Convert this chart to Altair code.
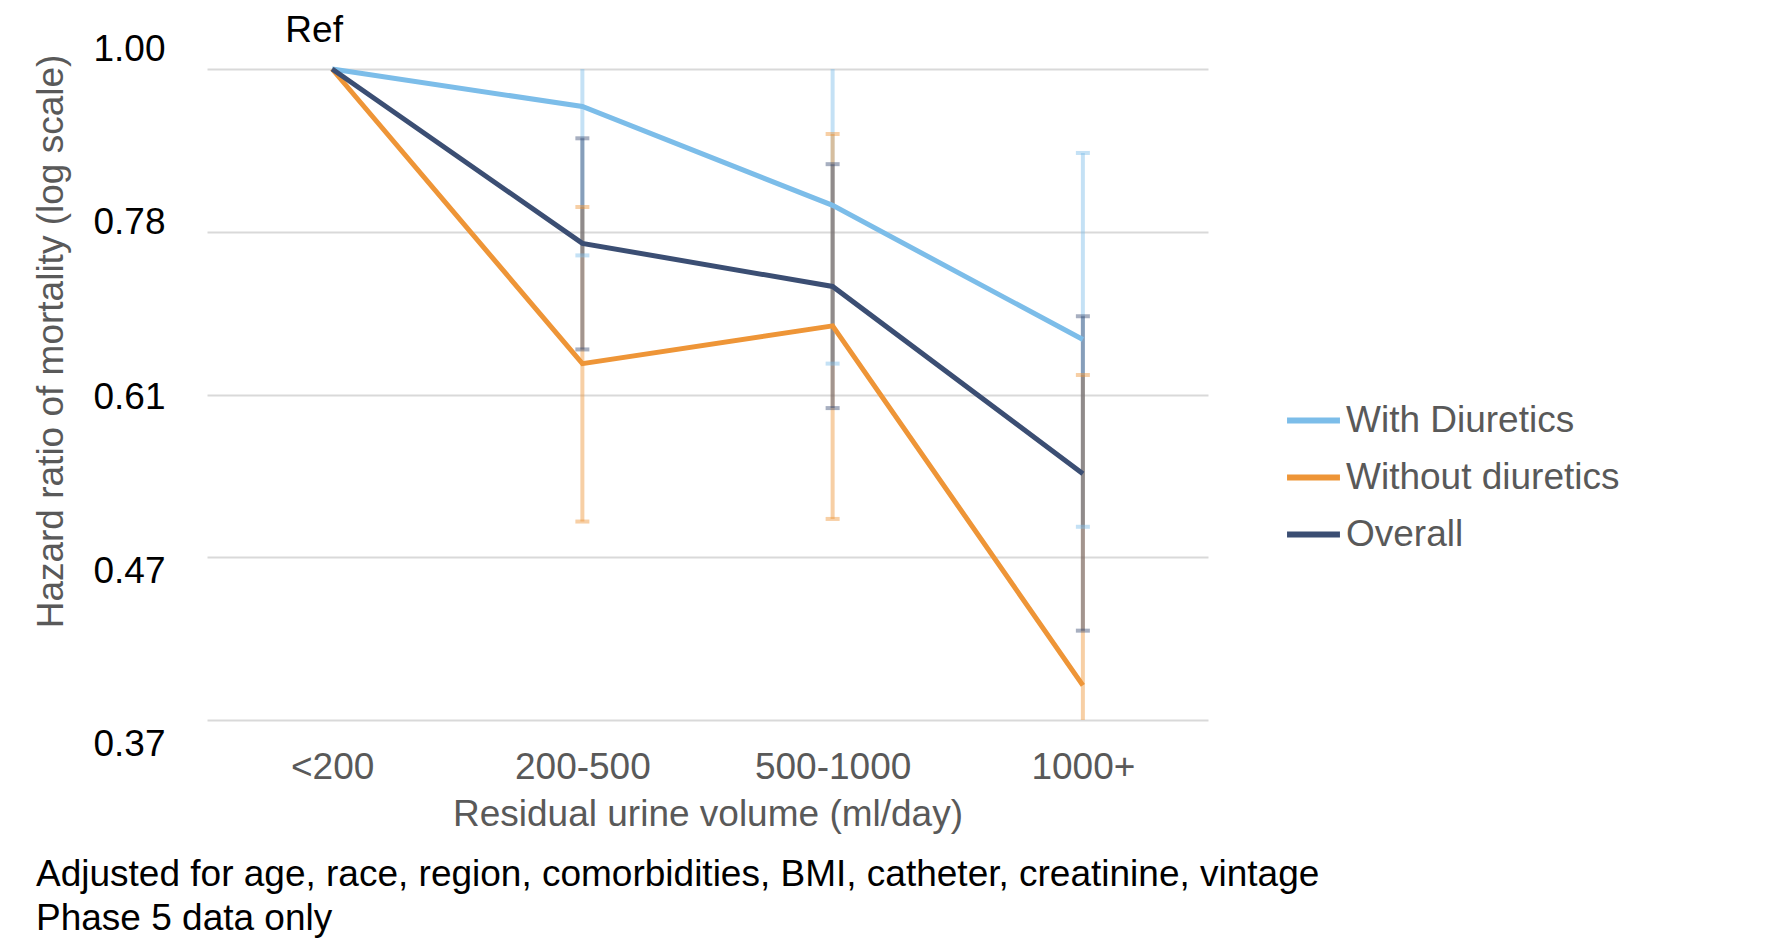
import altair as alt
import pandas as pd
import math

categories = ["<200", "200-500", "500-1000", "1000+"]
series_names = ["With Diuretics", "Without diuretics", "Overall"]
colors = ["#7cbde9", "#ee9537", "#3b4e73"]

with_hr = [1.0, 0.944, 0.811, 0.660]
with_lo = [None, 0.751, 0.636, 0.495]
with_hi = [None, 1.09, 1.04, 0.879]

without_hr = [1.0, 0.636, 0.674, 0.388]
without_lo = [None, 0.499, 0.501, 0.35]
without_hi = [None, 0.809, 0.905, 0.625]

overall_hr = [1.0, 0.765, 0.716, 0.537]
overall_lo = [None, 0.650, 0.594, 0.422]
overall_hi = [None, 0.899, 0.864, 0.684]

y_ticks = [math.exp(-0.25 * k) for k in range(5)]
footnotes = ["Adjusted for age, race, region, comorbidities, BMI, catheter, creatinine, vintage",
             "Phase 5 data only"]
ref_label = "Ref"

rows = []
for name, hr, lo, hi in [
    (series_names[0], with_hr, with_lo, with_hi),
    (series_names[1], without_hr, without_lo, without_hi),
    (series_names[2], overall_hr, overall_lo, overall_hi),
]:
    for c, v, l, h in zip(categories, hr, lo, hi):
        rows.append({"cat": c, "series": name, "hr": v, "lo": l, "hi": h})
df = pd.DataFrame(rows)
eb = df.dropna(subset=["lo"])

FONT = "Liberation Sans"
FS = 37
W, H = 1001, 651

xenc = alt.X("cat:N", sort=categories,
             scale=alt.Scale(type="point", padding=0.5),
             axis=alt.Axis(title="Residual urine volume (ml/day)", ticks=False, domain=False,
                           grid=False, labelAngle=0, labelFontSize=FS, labelColor="#595959",
                           labelFont=FONT, labelPadding=29, titleFontSize=FS,
                           titleFont=FONT, titleColor="#595959", titleFontWeight="normal",
                           titleY=94, titleBaseline="middle"))
yscale = alt.Scale(type="log", domain=[math.exp(-1), 1.0], nice=False)
yaxis = alt.Axis(title="Hazard ratio of mortality (log scale)", values=y_ticks,
                 labelExpr="format(datum.value, '.2f')", ticks=False, domain=False,
                 grid=True, gridColor="#d9d9d9", gridWidth=2,
                 labelFontSize=FS, labelColor="#000000", labelFont=FONT, labelPadding=42,
                 labelOffset={"condition": [
                     {"test": "datum.value > 0.9", "value": -20},
                     {"test": "datum.value > 0.7", "value": -9},
                     {"test": "datum.value > 0.55", "value": 3},
                     {"test": "datum.value > 0.42", "value": 14}], "value": 24},
                 titleFontSize=FS, titleFont=FONT, titleColor="#595959",
                 titleFontWeight="normal", titleX=-156, titleY=272, titleAngle=270,
                 titleBaseline="middle", titleAlign="center")
cscale = alt.Scale(domain=series_names, range=colors)

base = alt.Chart(df)

rules = alt.Chart(eb).mark_rule(strokeWidth=4, opacity=0.45, clip=True).encode(
    x=xenc, y=alt.Y("lo:Q", scale=yscale, axis=yaxis), y2="hi:Q",
    color=alt.Color("series:N", scale=cscale, legend=None))
cap_lo = alt.Chart(eb).mark_tick(thickness=4, size=14, opacity=0.45, clip=True).encode(
    x=xenc, y=alt.Y("lo:Q", scale=yscale),
    color=alt.Color("series:N", scale=cscale, legend=None))
cap_hi = alt.Chart(eb).mark_tick(thickness=4, size=14, opacity=0.45, clip=True).encode(
    x=xenc, y=alt.Y("hi:Q", scale=yscale),
    color=alt.Color("series:N", scale=cscale, legend=None))

lines = base.mark_line(strokeWidth=5).encode(
    x=xenc, y=alt.Y("hr:Q", scale=yscale),
    color=alt.Color("series:N", scale=cscale,
                    legend=alt.Legend(title=None, orient="none", legendX=1077, legendY=322,
                                      symbolType="stroke", symbolSize=2800,
                                      symbolStrokeWidth=6, labelFontSize=FS,
                                      labelColor="#595959", labelFont=FONT,
                                      rowPadding=9, labelOffset=3, labelLimit=500)),
    order=alt.value(0))

ref = alt.Chart(pd.DataFrame({"cat": [categories[0]], "hr": [1.0], "t": [ref_label]})).mark_text(
    fontSize=FS, font=FONT, color="#000000", dx=-18, dy=-38, baseline="middle", align="center"
).encode(x=xenc, y=alt.Y("hr:Q", scale=yscale), text="t:N")

notes = []
for i, line in enumerate(footnotes):
    notes.append(alt.Chart(alt.Data(values=[{}])).mark_text(
        fontSize=FS, font=FONT, color="#000000", align="left", baseline="middle"
    ).encode(x=alt.value(-171), y=alt.value(806 + 44 * i), text=alt.value(line)))

chart = alt.layer(rules, cap_lo, cap_hi, lines, ref, *notes).resolve_scale(
    color="independent"
).properties(
    width=W, height=H,
    autosize=alt.AutoSizeParams(type="none"),
    padding={"left": 199, "top": 61, "right": 551, "bottom": 219},
).configure(font=FONT).configure_view(stroke=None, strokeWidth=0)

chart.save("out.html", embed_options={"renderer": "svg", "actions": False})
